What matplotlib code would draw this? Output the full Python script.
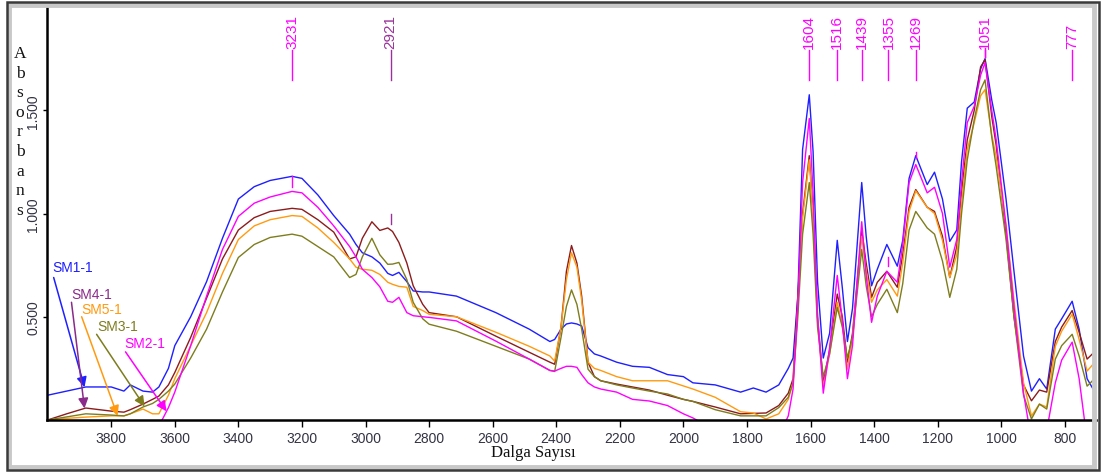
#!/usr/bin/env python3
# -*- coding: utf-8 -*-
"""FTIR absorbance spectra of SM1-1 ... SM5-1 (Dalga Sayısı vs Absorbans)."""
import matplotlib
matplotlib.use("Agg")
import matplotlib.pyplot as plt
from matplotlib.patches import Rectangle
import numpy as np

# wavenumber grid (cm-1), descending
wavenumber = [
    4000, 3940, 3880, 3800, 3760, 3740, 3700, 3670, 3650, 3620, 3600, 3550, 3500,
    3450, 3400, 3350, 3300, 3231, 3200, 3150, 3100, 3050, 3030, 3010, 2980, 2955,
    2930, 2915, 2895, 2870, 2850, 2820, 2800, 2714, 2590, 2485, 2420, 2405, 2385,
    2368, 2352, 2335, 2320, 2300, 2280, 2260, 2210, 2160, 2107, 2050, 2000, 1970,
    1900, 1820, 1780, 1740, 1700, 1670, 1655, 1640, 1625, 1604, 1592, 1578, 1560,
    1540, 1516, 1500, 1484, 1468, 1439, 1425, 1408, 1390, 1360, 1327, 1310, 1290,
    1269, 1233, 1210, 1185, 1162, 1140, 1125, 1107, 1085, 1065, 1051, 1030, 1016,
    985, 960, 930, 905, 880, 857, 830, 810, 777, 755, 730, 700,
]

sm1 = [
    0.12, 0.14, 0.16, 0.16, 0.14, 0.17, 0.14, 0.135, 0.16, 0.25, 0.36, 0.50, 0.67,
    0.88, 1.07, 1.13, 1.16, 1.18, 1.17, 1.09, 0.99, 0.90, 0.85, 0.81, 0.79, 0.76,
    0.71, 0.70, 0.715, 0.67, 0.625, 0.62, 0.62, 0.60, 0.52, 0.44, 0.38, 0.39, 0.44,
    0.465, 0.47, 0.465, 0.455, 0.35, 0.32, 0.31, 0.28, 0.26, 0.255, 0.22, 0.21, 0.18,
    0.17, 0.135, 0.155, 0.135, 0.17, 0.25, 0.30, 0.60, 1.31, 1.575, 1.30, 0.67, 0.30,
    0.42, 0.87, 0.64, 0.38, 0.54, 1.15, 0.89, 0.65, 0.73, 0.85, 0.745, 0.87, 1.17,
    1.28, 1.14, 1.20, 1.07, 0.865, 0.92, 1.25, 1.51, 1.54, 1.70, 1.75, 1.55, 1.44,
    1.07, 0.72, 0.31, 0.14, 0.20, 0.15, 0.44, 0.49, 0.575, 0.44, 0.20, 0.12,
]

sm4 = [
    0.0, 0.03, 0.058, 0.043, 0.038, 0.05, 0.077, 0.10, 0.116, 0.17, 0.23, 0.40, 0.59,
    0.78, 0.92, 0.98, 1.01, 1.025, 1.02, 0.97, 0.91, 0.78, 0.79, 0.88, 0.96, 0.918,
    0.93, 0.913, 0.86, 0.76, 0.65, 0.56, 0.52, 0.50, 0.406, 0.328, 0.28, 0.27, 0.45,
    0.72, 0.845, 0.76, 0.60, 0.28, 0.21, 0.19, 0.174, 0.16, 0.145, 0.12, 0.10, 0.09,
    0.063, 0.03, 0.032, 0.034, 0.07, 0.13, 0.20, 0.60, 1.00, 1.28, 1.00, 0.50, 0.18,
    0.34, 0.61, 0.50, 0.28, 0.42, 0.92, 0.76, 0.594, 0.667, 0.72, 0.643, 0.80, 1.03,
    1.116, 1.03, 1.01, 0.89, 0.69, 0.84, 1.10, 1.357, 1.50, 1.71, 1.745, 1.47, 1.33,
    0.90, 0.50, 0.17, 0.093, 0.145, 0.135, 0.38, 0.45, 0.53, 0.425, 0.295, 0.34,
]

sm5 = [
    0.0, 0.008, 0.014, 0.02, 0.02, 0.03, 0.053, 0.03, 0.03, 0.12, 0.20, 0.36, 0.52,
    0.71, 0.874, 0.94, 0.97, 0.99, 0.986, 0.93, 0.86, 0.78, 0.74, 0.73, 0.725, 0.705,
    0.667, 0.657, 0.647, 0.643, 0.55, 0.53, 0.512, 0.50, 0.425, 0.357, 0.31, 0.285, 0.45,
    0.68, 0.81, 0.74, 0.58, 0.28, 0.25, 0.24, 0.21, 0.19, 0.19, 0.19, 0.165, 0.15,
    0.11, 0.04, 0.034, 0.005, 0.03, 0.10, 0.18, 0.55, 0.98, 1.26, 0.98, 0.48, 0.16,
    0.32, 0.57, 0.46, 0.246, 0.40, 0.89, 0.72, 0.57, 0.63, 0.68, 0.60, 0.76, 1.01,
    1.11, 1.03, 1.00, 0.87, 0.69, 0.80, 1.05, 1.31, 1.44, 1.57, 1.60, 1.38, 1.275,
    0.94, 0.58, 0.18, 0.02, 0.077, 0.063, 0.357, 0.43, 0.512, 0.39, 0.237, 0.29,
]

sm3 = [
    0.0, 0.015, 0.03, 0.024, 0.02, 0.03, 0.063, 0.08, 0.10, 0.14, 0.174, 0.30, 0.44,
    0.62, 0.787, 0.85, 0.884, 0.90, 0.89, 0.84, 0.79, 0.69, 0.705, 0.79, 0.88, 0.80,
    0.754, 0.755, 0.763, 0.68, 0.57, 0.49, 0.464, 0.43, 0.357, 0.295, 0.24, 0.235, 0.40,
    0.55, 0.63, 0.56, 0.44, 0.246, 0.21, 0.19, 0.17, 0.155, 0.14, 0.126, 0.10, 0.09,
    0.05, 0.02, 0.02, 0.02, 0.06, 0.11, 0.18, 0.50, 0.90, 1.15, 0.90, 0.45, 0.21,
    0.32, 0.545, 0.45, 0.30, 0.40, 0.826, 0.65, 0.50, 0.56, 0.633, 0.52, 0.66, 0.92,
    1.01, 0.93, 0.90, 0.77, 0.594, 0.73, 1.00, 1.26, 1.455, 1.60, 1.647, 1.37, 1.227,
    0.874, 0.50, 0.12, 0.005, 0.077, 0.053, 0.295, 0.36, 0.415, 0.31, 0.164, 0.21,
]

sm2 = [
    -0.3, -0.3, -0.3, -0.28, -0.26, -0.25, -0.2, -0.1, -0.03, 0.06, 0.135, 0.36, 0.60,
    0.826, 0.986, 1.05, 1.08, 1.107, 1.10, 1.03, 0.94, 0.84, 0.79, 0.73, 0.69, 0.645,
    0.575, 0.57, 0.594, 0.52, 0.505, 0.50, 0.497, 0.48, 0.382, 0.295, 0.24, 0.237, 0.25,
    0.26, 0.26, 0.255, 0.22, 0.18, 0.16, 0.15, 0.135, 0.10, 0.092, 0.07, 0.03, 0.01,
    -0.05, -0.1, -0.12, -0.12, -0.08, 0.02, 0.15, 0.55, 1.15, 1.46, 1.10, 0.50, 0.13,
    0.35, 0.70, 0.48, 0.20, 0.36, 0.96, 0.70, 0.473, 0.60, 0.72, 0.667, 0.85, 1.15,
    1.237, 1.10, 1.127, 1.00, 0.74, 0.874, 1.15, 1.44, 1.52, 1.67, 1.73, 1.50, 1.357,
    0.94, 0.55, 0.13, -0.1, -0.2, -0.05, 0.18, 0.29, 0.377, 0.20, -0.1, -0.3,
]

series_names = ["SM1-1", "SM4-1", "SM5-1", "SM3-1", "SM2-1"]
series_values = [sm1, sm4, sm5, sm3, sm2]
line_colors = ["#1f1fff", "#8c1c1c", "#ff9a10", "#7d7d1e", "#ff00ff"]
label_colors = ["#1f1fff", "#8a2a8a", "#ff9a10", "#7d7d1e", "#ff00ff"]

# label text position (wavenumber, absorbance), arrow tail, arrow target wavenumber
label_pos = [(3984, 0.74), (3925, 0.61), (3893, 0.536), (3843, 0.454), (3758, 0.372)]
arrow_tail = [(3981, 0.69), (3925, 0.57), (3893, 0.50), (3846, 0.415), (3755, 0.33)]
arrow_target = [3884, 3884, 3780, 3695, 3626]

# peak labels along the top
peak_wn = [3231, 2921, 1604, 1516, 1439, 1355, 1269, 1051, 777]
peak_colors = ["#ff00ff", "#993399", "#ff00ff", "#ff00ff", "#ff00ff",
               "#ff00ff", "#ff00ff", "#ff00ff", "#ff00ff"]
peak_line_bottom = [1.647, 1.647, 1.647, 1.647, 1.647, 1.647, 1.647, 1.76, 1.647]

# small marker ticks sitting on the curves: (wavenumber, ymin, ymax, colour)
curve_ticks = [(3231, 1.13, 1.18, "#ff00ff"), (2921, 0.95, 1.00, "#993399"),
               (1355, 0.745, 0.79, "#ff00ff"), (1269, 1.27, 1.30, "#ff00ff"),
               (1051, 1.76, 1.80, "#ff00ff")]

W, H = 1105, 477
fig = plt.figure(figsize=(W / 100, H / 100), dpi=100)
fig.patch.set_facecolor("white")

ax = fig.add_axes([47 / W, 1 - 421 / H, (1096 - 47) / W, (421 - 8) / H])

wn = np.array(wavenumber)
for name, vals, col in zip(series_names, series_values, line_colors):
    ax.plot(wn, vals, color=col, lw=1.0, solid_joinstyle="round")

for name, (tx, ty), (ax0, ay0), tgt, col, lcol in zip(
        series_names, label_pos, arrow_tail, arrow_target, series_values, label_colors):
    ty_tgt = np.interp(tgt, wn[::-1], np.array(col)[::-1])
    ax.text(tx, ty, name, color=lcol, fontsize=10, family="Liberation Sans",
            ha="left", va="center")
    ax.annotate("", xy=(tgt, ty_tgt), xytext=(ax0, ay0),
                arrowprops=dict(arrowstyle="-|>", color=lcol, lw=1.1,
                                mutation_scale=15, shrinkA=0, shrinkB=0))

for p, c, yb in zip(peak_wn, peak_colors, peak_line_bottom):
    ax.plot([p, p], [yb, 1.79], color=c, lw=1.0, clip_on=False)
    ax.text(p, 1.80, str(p), rotation=90, color=c, fontsize=11,
            family="Liberation Sans", ha="center", va="bottom")

for p, y0, y1, c in curve_ticks:
    ax.plot([p, p], [y0, y1], color=c, lw=1.0)

ax.set_xlim(4002, 702)
ax.set_ylim(0, 2.0)
ax.set_xticks(np.arange(3800, 700, -200))
ax.set_yticks([0.5, 1.0, 1.5])
ax.set_yticklabels(["0.500", "1.000", "1.500"], rotation=90, va="center")
ax.tick_params(axis="x", length=5, width=1, direction="out", labelsize=10,
               labelcolor="#333344", pad=3)
ax.tick_params(axis="y", length=3, width=1, direction="out", labelsize=10,
               labelcolor="#333344", pad=2)
for lab in ax.get_xticklabels() + ax.get_yticklabels():
    lab.set_family("Liberation Sans")

ax.spines["top"].set_visible(False)
ax.spines["right"].set_visible(False)
ax.spines["left"].set_linewidth(1.8)
ax.spines["bottom"].set_linewidth(1.8)

fig.text(533 / W, 1 - 453 / H, "Dalga Sayısı", family="Liberation Serif",
         fontsize=12, ha="center", va="center", color="#111111")
fig.text(20 / W, 1 - 46 / H, "\n".join("Absorbans"), family="Liberation Serif",
         fontsize=12.5, ha="center", va="top", linespacing=1.3, color="#111111")

# window frame
fig.patches.append(Rectangle((9 / W, 1 - 468 / H), (1094 - 9) / W, (468 - 6) / H,
                             transform=fig.transFigure, fill=False,
                             edgecolor="#c8c8c8", lw=3.5))
fig.patches.append(Rectangle((7 / W, 1 - 471 / H), (1099 - 7) / W, (471 - 3) / H,
                             transform=fig.transFigure, fill=False,
                             edgecolor="#3a3a3a", lw=1.8))

fig.savefig("out.png", dpi=100)
